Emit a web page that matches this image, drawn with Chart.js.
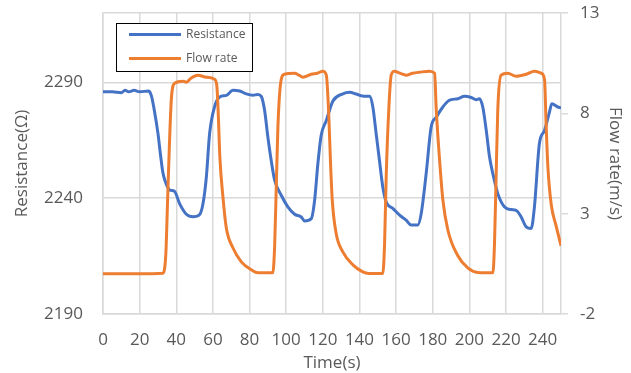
<!DOCTYPE html>
<html>
<head>
<meta charset="utf-8">
<script src="https://cdn.jsdelivr.net/npm/chart.js@4"></script>
<style>
  body { margin: 0; background: #fff; }
</style>
</head>
<body>
<canvas id="chart" width="631" height="373"></canvas>
<script>
// ===== DATA =====
const resTime = [0, 5, 10, 12, 14, 17, 20, 25, 26.5, 28, 30, 31.5, 32.7, 34.6, 36.5, 39, 41.8, 45.5, 49.1, 52.8,
  54.6, 56.4, 58.2, 60.9, 63.7, 67.3, 70.9, 74.6, 78.2, 81.8, 84.5, 86.4, 88.2, 90, 91.8, 93.7, 97.3, 100.9, 104.6, 108.2,
  110, 113.7, 115.5, 117.3, 119.1, 121.9, 125.5, 130.9, 134.6, 138.2, 141.8, 145.5, 147.3, 149.1, 150.9, 152.7, 154.6, 158.2, 161.9, 165.5,
  168.2, 171.8, 173.7, 176.4, 179.1, 181.9, 185.5, 188.8, 193.7, 197.3, 201, 203.7, 205.5, 207.3, 209.2, 211, 212.8, 215.5, 219.1, 222.8,
  225.5, 228.2, 231, 233.7, 235.5, 238.2, 241, 243.7, 245, 248.2, 250];
const resistance = [2286, 2286, 2285.6, 2286.6, 2286, 2286.6, 2286, 2286.3, 2284, 2278, 2268, 2258, 2251, 2246, 2243.5, 2243, 2237.7, 2233.1, 2232, 2233,
  2237.7, 2249, 2268, 2279.5, 2283.7, 2284.4, 2286.6, 2286.3, 2285.1, 2284.5, 2284.8, 2284, 2278, 2266.4, 2256.4, 2247.8, 2241.3, 2236.3, 2233.1, 2231.9,
  2230.2, 2231.2, 2239, 2255, 2267.2, 2273.6, 2282, 2285.1, 2285.8, 2285, 2284.1, 2284, 2279.4, 2267.9, 2256.4, 2245, 2238.4, 2235.6, 2232.7, 2230.5,
  2228.4, 2228.4, 2233.4, 2250.6, 2270.7, 2275, 2279.4, 2282.2, 2283, 2284, 2283.5, 2282.5, 2283, 2279.4, 2269.3, 2257.8, 2250.6, 2242, 2236.3, 2235.1,
  2234.8, 2232, 2227.6, 2226.9, 2236.3, 2263.6, 2269.3, 2277.2, 2280.8, 2279.4, 2279];

const flowTime = [0, 10, 20, 32.5, 34.3, 35.2, 36.2, 37.3, 39.1, 43.6, 45.5, 48, 51.8, 56.4, 60.9, 62.2, 62.9, 63.8, 65.5, 67.3,
  70.9, 75.5, 81, 84.5, 92.7, 93.7, 94.6, 95.5, 97.3, 99.1, 104.6, 107, 109.1, 113.7, 117, 120, 121.9, 123.2, 124.2, 125.2,
  127.3, 130.9, 136.4, 141.8, 145, 152.7, 153.7, 154.6, 156, 157.3, 159.1, 162, 165.5, 169, 172.8, 178.2, 181, 181.9, 183.7, 185.5,
  188.2, 193.7, 199.1, 204.6, 212.8, 213.7, 214.6, 215.5, 217.3, 220.9, 225.5, 231, 235.5, 239.2, 241, 241.9, 242.8, 244.6, 247.3, 250];
const flowRate = [0, 0, 0, 0.03, 1.0, 3.5, 6.3, 8.7, 9.5, 9.6, 9.55, 9.75, 9.9, 9.8, 9.7, 9.3, 8.0, 5.8, 3.8, 2.3,
  1.3, 0.6, 0.2, 0.05, 0.05, 1.4, 4.4, 7.4, 9.7, 9.95, 10.0, 9.9, 9.8, 9.95, 10.0, 10.1, 9.9, 8.0, 5.5, 3.6,
  2.0, 1.1, 0.45, 0.1, 0.02, 0.02, 1.5, 4.9, 8.2, 9.9, 10.1, 10.0, 9.9, 10.0, 10.05, 10.1, 10.0, 8.2, 5.7, 3.7,
  2.2, 0.9, 0.3, 0.07, 0.05, 1.5, 4.9, 8.2, 9.9, 10.0, 9.85, 9.95, 10.1, 10.0, 9.7, 7.4, 5.4, 3.5, 2.4, 1.4];

const timeTicks = [0, 20, 40, 60, 80, 100, 120, 140, 160, 180, 200, 220, 240];
const resTicks = [2190, 2240, 2290];
const flowTicks = [-2, 3, 8, 13];

// ===== STYLE =====
const grey = "#595959";
const gridGrey = "#d9d9d9";
const font = { family: "'Open Sans', 'Noto Sans', sans-serif", size: 17 };

// legend box drawn inside the plot, like the Excel one
const boxLegend = {
  id: "boxLegend",
  afterDatasetsDraw(chart) {
    const ctx = chart.ctx;
    ctx.save();
    ctx.fillStyle = "#fff";
    ctx.fillRect(116, 23, 136, 48);
    ctx.strokeStyle = "#000";
    ctx.lineWidth = 1;
    ctx.strokeRect(116.5, 23.5, 136, 48);
    ctx.font = "12px 'Open Sans', sans-serif";
    ctx.textBaseline = "middle";
    chart.data.datasets.forEach((ds, i) => {
      const y = 34.5 + i * 24;
      ctx.strokeStyle = ds.borderColor;
      ctx.lineWidth = 3;
      ctx.beginPath();
      ctx.moveTo(129, y);
      ctx.lineTo(181, y);
      ctx.stroke();
      ctx.fillStyle = grey;
      ctx.fillText(ds.label, 186, y);
    });
    ctx.restore();
  }
};

const setTicks = vals => s => { s.ticks = vals.map(v => ({ value: v })); };
// fixed axis sizes, and no extra padding from the tick labels
const fitWidth = w => s => { s.width = w; s.paddingTop = 0; s.paddingBottom = 0; };
const fitHeight = h => s => { s.height = h; s.paddingLeft = 0; s.paddingRight = 0; };

new Chart(document.getElementById("chart"), {
  type: "line",
  data: {
    datasets: [
      {
        label: "Resistance",
        data: resTime.map((t, i) => ({ x: t, y: resistance[i] })),
        borderColor: "#4472C4",
        borderWidth: 3,
        pointRadius: 0,
        cubicInterpolationMode: "monotone",
        yAxisID: "y",
        order: 1
      },
      {
        label: "Flow rate",
        data: flowTime.map((t, i) => ({ x: t, y: flowRate[i] })),
        borderColor: "#ED7D31",
        borderWidth: 3,
        pointRadius: 0,
        cubicInterpolationMode: "monotone",
        yAxisID: "y1",
        order: 0
      }
    ]
  },
  options: {
    responsive: false,
    animation: false,
    layout: { padding: { top: 13 } },
    plugins: { legend: { display: false }, tooltip: { enabled: false } },
    scales: {
      x: {
        type: "linear",
        min: 0,
        max: 250,
        afterBuildTicks: setTicks(timeTicks),
        afterFit: fitHeight(59),
        grid: { color: gridGrey, lineWidth: 1.5, drawTicks: false },
        border: { color: gridGrey, width: 1.5 },
        ticks: { color: grey, font, padding: 16, maxRotation: 0, autoSkip: false },
        title: { display: true, text: "Time(s)", color: grey, font, padding: { top: 0, bottom: 0 } }
      },
      y: {
        position: "left",
        min: 2190,
        max: 2320,
        afterBuildTicks: s => { s.ticks = [...resTicks, 2320].map(v => ({ value: v })); },
        afterFit: fitWidth(103),
        grid: { color: gridGrey, lineWidth: 1.5, drawTicks: false },
        border: { color: gridGrey, width: 1.5 },
        ticks: { color: grey, font, padding: 20, callback: v => resTicks.includes(v) ? v : "" },
        title: { display: true, text: "Resistance(Ω)", color: grey, font, padding: { top: 12, bottom: 0 } }
      },
      y1: {
        position: "right",
        min: -2,
        max: 13,
        afterBuildTicks: setTicks(flowTicks),
        afterFit: fitWidth(70),
        grid: { drawOnChartArea: false, color: gridGrey, lineWidth: 1.5, tickLength: 7 },
        border: { color: gridGrey, width: 1.5 },
        ticks: { color: grey, font, padding: 12 },
        title: { display: true, text: "Flow rate(m/s)", color: grey, font, padding: { top: 6, bottom: 0 } }
      }
    }
  },
  plugins: [boxLegend]
});
</script>
</body>
</html>
